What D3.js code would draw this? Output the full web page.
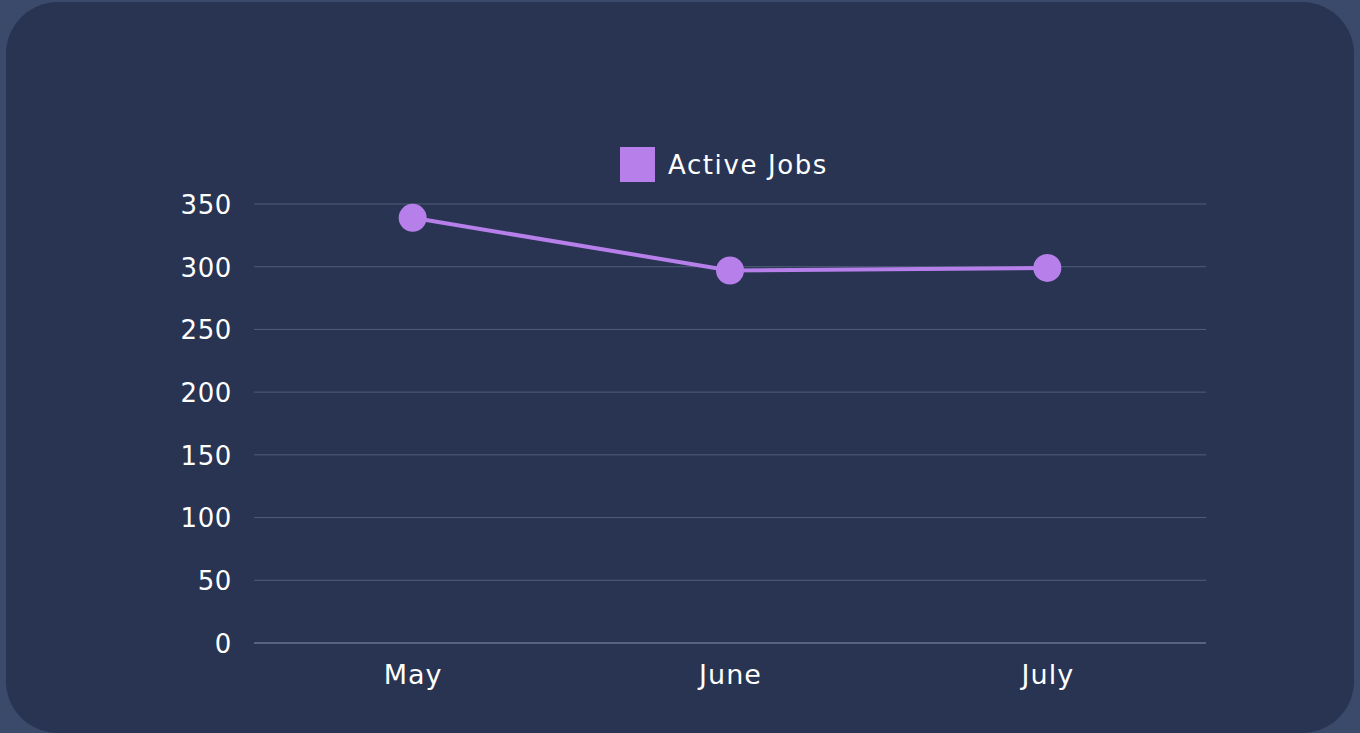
<!DOCTYPE html>
<html>
<head>
<meta charset="utf-8">
<script src="https://cdn.jsdelivr.net/npm/d3@7"></script>
<style>
  html, body { margin: 0; padding: 0; background: #3b4a6b; }
  #chart { width: 1360px; height: 733px; }
  text { font-family: "DejaVu Sans", sans-serif; }
</style>
</head>
<body>
<div id="chart"></div>
<script>
// chart data
const months = ["May", "June", "July"];
const activeJobs = [339, 297, 299];
const yTicks = [0, 50, 100, 150, 200, 250, 300, 350];
const seriesName = "Active Jobs";

const width = 1360;
const height = 733;
const margin = {top: 204, right: 154, bottom: 90, left: 254};
const innerWidth = width - margin.left - margin.right;
const innerHeight = height - margin.top - margin.bottom;
const fontFamily = "'DejaVu Sans', sans-serif";

const svg = d3.select("#chart")
  .append("svg")
  .attr("width", width)
  .attr("height", height);

// card background
svg.append("rect")
  .attr("x", 6)
  .attr("y", 2)
  .attr("width", 1348)
  .attr("height", 731)
  .attr("rx", 52)
  .attr("fill", "#283452");

const chart = svg.append("g")
  .attr("transform", `translate(${margin.left}, ${margin.top})`);

const x = d3.scalePoint()
  .domain(months)
  .range([0, innerWidth])
  .padding(0.5);

const y = d3.scaleLinear()
  .domain([0, 350])
  .range([innerHeight, 0]);

// grid lines
chart.selectAll(".grid")
  .data(yTicks)
  .enter()
  .append("line")
  .attr("x1", 0)
  .attr("x2", innerWidth)
  .attr("y1", d => y(d))
  .attr("y2", d => y(d))
  .attr("stroke", d => d === 0 ? "#8a91a8" : "#525d79")
  .attr("stroke-width", 1);

// y axis
const yAxis = chart.append("g")
  .call(d3.axisLeft(y).tickValues(yTicks).tickSize(0).tickPadding(22));
yAxis.select(".domain").remove();
yAxis.selectAll("text")
  .attr("fill", "#ffffff")
  .attr("font-size", 26)
  .attr("dy", "0.36em")
  .style("letter-spacing", "0.6px")
  .style("font-family", fontFamily);

// x axis
const xAxis = chart.append("g")
  .attr("transform", `translate(0, ${innerHeight})`)
  .call(d3.axisBottom(x).tickSize(0));
xAxis.select(".domain").remove();
xAxis.selectAll("text")
  .attr("fill", "#ffffff")
  .attr("font-size", 27)
  .attr("y", 41)
  .attr("dy", 0)
  .style("letter-spacing", "1px")
  .style("font-family", fontFamily);

// line
const line = d3.line()
  .x((d, i) => x(months[i]))
  .y(d => y(d));

chart.append("path")
  .datum(activeJobs)
  .attr("d", line)
  .attr("fill", "none")
  .attr("stroke", "#b67fea")
  .attr("stroke-width", 4);

chart.selectAll(".dot")
  .data(activeJobs)
  .enter()
  .append("circle")
  .attr("cx", (d, i) => x(months[i]))
  .attr("cy", d => y(d))
  .attr("r", 14)
  .attr("fill", "#b67fea");

// legend
const legend = svg.append("g")
  .attr("transform", "translate(620, 147)");
legend.append("rect")
  .attr("width", 35)
  .attr("height", 35)
  .attr("fill", "#b67fea");
legend.append("text")
  .attr("x", 48)
  .attr("y", 27)
  .attr("fill", "#ffffff")
  .attr("font-size", 26)
  .style("letter-spacing", "1.6px")
  .style("font-family", fontFamily)
  .text(seriesName);
</script>
</body>
</html>
